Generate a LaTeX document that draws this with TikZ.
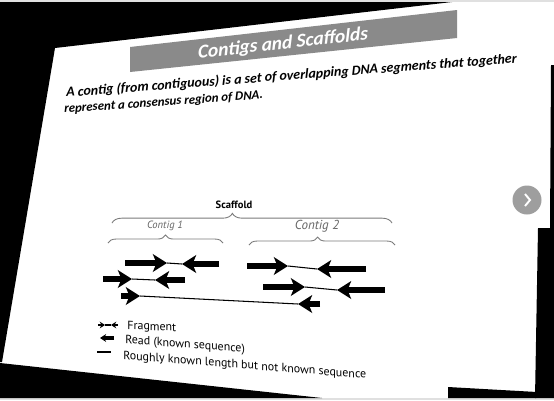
\documentclass[tikz,border=0pt]{standalone}
\usepackage{fontspec}
\setmainfont{Carlito}
\newfontfamily\figfont{PT Sans}
\usetikzlibrary{arrows.meta,decorations.pathreplacing}
\definecolor{bargray}{HTML}{8A8A8A}
\definecolor{bracegray}{HTML}{7A7A7A}
\definecolor{btngray}{HTML}{9E9E9E}
\begin{document}
\begin{tikzpicture}[x=0.02cm, y=-0.02cm, >={Stealth[length=8pt,width=10pt,inset=2pt]},
  titletext/.style={text=white, inner sep=0pt, font=\fontsize{11}{13}\selectfont\bfseries\itshape},
  bodytext/.style={inner sep=0pt, anchor=base west, font=\fontsize{7.9}{9}\selectfont\bfseries\itshape},
  legendtext/.style={inner sep=0pt, anchor=base west, font=\figfont\fontsize{6.8}{8}\selectfont},
  contiglabel/.style={inner sep=0pt, text=black!60, font=\figfont\itshape\fontsize{6}{7}\selectfont},
  bracepath/.style={draw=bracegray, line width=0.5pt, decorate},
  read/.style={->, line width=3.8pt},
  gapline/.style={line width=0.6pt}]
\useasboundingbox (0,0) rectangle (554,400);
\fill[black!12] (0,0) rectangle (554,400);
\fill[white] (0,2) rectangle (554,398);
\fill[black] (0,2) -- (452,2) -- (55,48) -- (2,362) -- (0,362) -- cycle;
\fill[black] (0,363) -- (322,398) -- (0,398) -- cycle;
\fill[black] (551,65) -- (554,65) -- (554,398) -- (535,398) -- (538,228) -- (550,228) -- cycle;
\fill[black] (448,387) -- (537,392) -- (536,398) -- (448,398) -- cycle;
\fill[bargray] (130,47) -- (457,10) -- (457,38) -- (130,72) -- cycle;

\node[titletext, yslant=0.108] (title) at (283,44) {Contigs and Scaffolds};
\node[bodytext, yslant=0.076] (def1) at (66,97) {A contig (from contiguous) is a set of overlapping DNA segments that together};
\node[bodytext, yslant=0.072, font=\fontsize{7.3}{9}\selectfont\bfseries\itshape] (def2) at (64,113) {represent a consensus region of DNA.};

\node[inner sep=0pt, font=\figfont\bfseries\fontsize{6}{7}\selectfont] (scaffold) at (234,205) {Scaffold};
\node[contiglabel] (contig1) at (165,226) {Contig 1};
\node[contiglabel, font=\figfont\itshape\fontsize{7.4}{8}\selectfont] (contig2) at (317,226) {Contig 2};

\coordinate (sc1) at (112,223);
\coordinate (sc2) at (392,223);
\coordinate (ca1) at (108,243);
\coordinate (ca2) at (223,243);
\coordinate (cb1) at (249,245);
\coordinate (cb2) at (395,245);
\draw[bracepath, decoration={brace, amplitude=5.5pt, aspect=0.43}] (sc1) -- (sc2);
\draw[bracepath, decoration={brace, amplitude=4.5pt, aspect=0.5}] (ca1) -- (ca2);
\draw[bracepath, decoration={brace, amplitude=4.5pt, aspect=0.47}] (cb1) -- (cb2);

\coordinate (f1a) at (125,263);
\coordinate (f1b) at (167,263);
\coordinate (f1c) at (182,264);
\coordinate (f1d) at (219,264);
\coordinate (f2a) at (103,279);
\coordinate (f2b) at (132,279);
\coordinate (f2c) at (155,280);
\coordinate (f2d) at (185,280);
\coordinate (f3a) at (121,296);
\coordinate (f3b) at (140,296);
\coordinate (f3c) at (298,304);
\coordinate (f3d) at (320,304);
\coordinate (f4a) at (247,266);
\coordinate (f4b) at (288,266);
\coordinate (f4c) at (317,269);
\coordinate (f4d) at (366,269);
\coordinate (f5a) at (263,287);
\coordinate (f5b) at (305,287);
\coordinate (f5c) at (337,290);
\coordinate (f5d) at (385,290);
\draw[gapline] (f1b) -- (f1c);
\draw[gapline] (f2b) -- (f2c);
\draw[gapline] (f3b) -- (f3c);
\draw[gapline] (f4b) -- (f4c);
\draw[gapline] (f5b) -- (f5c);
\draw[read] (f1a) -- (f1b);
\draw[read] (f1d) -- (f1c);
\draw[read] (f2a) -- (f2b);
\draw[read] (f2d) -- (f2c);
\draw[read] (f3a) -- (f3b);
\draw[read] (f3d) -- (f3c);
\draw[read] (f4a) -- (f4b);
\draw[read] (f4d) -- (f4c);
\draw[read] (f5a) -- (f5b);
\draw[read] (f5d) -- (f5c);

\coordinate (lf1) at (98,325);
\coordinate (lf2) at (105,325);
\coordinate (lf3) at (111,325);
\coordinate (lf4) at (118,325);
\coordinate (lr1) at (114,338);
\coordinate (lr2) at (100,338);
\coordinate (ll1) at (97,352);
\coordinate (ll2) at (111,352);
\draw[gapline] (lf2) -- (lf3);
\draw[-{Stealth[length=3pt,width=3.8pt]}, line width=1.4pt] (lf1) -- (lf2);
\draw[-{Stealth[length=3pt,width=3.8pt]}, line width=1.4pt] (lf4) -- (lf3);
\draw[-{Stealth[length=3.5pt,width=4.5pt]}, line width=2pt] (lr1) -- (lr2);
\draw[gapline] (ll1) -- (ll2);
\node[legendtext, yslant=-0.05] (legfrag) at (127,329) {Fragment};
\node[legendtext, yslant=-0.08] (legread) at (125,343) {Read (known sequence)};
\node[legendtext, yslant=-0.08] (legline) at (123,359) {Roughly known length but not known sequence};

\node[circle, fill=btngray, minimum size=0.58cm, inner sep=0pt] (nextbtn) at (527,200) {};
\draw[white, line width=1.1pt] ([shift={(-2,-6)}]nextbtn.center) -- ([shift={(3,0)}]nextbtn.center) -- ([shift={(-2,6)}]nextbtn.center);
\end{tikzpicture}
\end{document}
